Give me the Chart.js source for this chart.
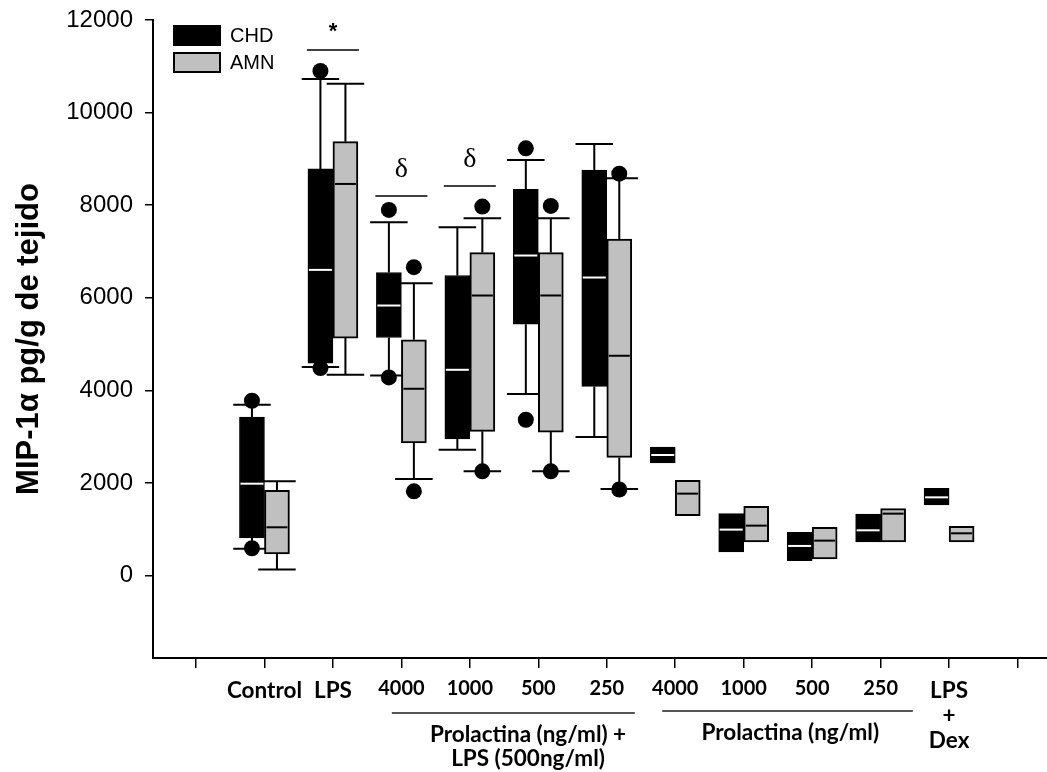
<!DOCTYPE html>
<html>
<head>
<meta charset="utf-8">
<script src="https://cdn.jsdelivr.net/npm/chart.js@4.4.1/dist/chart.umd.min.js"></script>
<style>
  html, body { margin: 0; padding: 0; background: #ffffff; }
  canvas { display: block; }
</style>
</head>
<body>
<canvas id="chart" width="1047" height="772"></canvas>
<script>
// Categories on the x axis (first and last slots are empty end ticks)
const categories = ['', 'Control', 'LPS', '4000', '1000', '500', '250',
                    '4000', '1000', '500', '250', ['LPS', '+', 'Dex'], ''];
// Category slot of each box pair
const boxSlots = [1, 2, 3, 4, 5, 6, 7, 8, 9, 10, 11];

// CHD series (pg/g)
const chdQ1     = [813, 4590, 5143, 2950, 5431, 4086, 2432, 511, 324, 727, 1526];
const chdMedian = [1985, 6603, 5833, 4445, 6913, 6438, 2604, 993, 640, 978, 1690];
const chdQ3     = [3425, 8783, 6546, 6481, 8345, 8761, 2777, 1338, 935, 1331, 1885];
const chdLow    = [580, 4503, 4323, 2719, 3920, 2993, null, null, null, null, null];
const chdHigh   = [3690, 10725, 7633, 7525, 8977, 9323, null, null, null, null, null];
const chdPoints = [[3776, 590], [10898, 4482], [7898, 4280], [], [9229, 3366], [], [], [], [], [], []];

// AMN series (pg/g)
const amnQ1     = [468, 5129, 2864, 3115, 3100, 2553, 1295, 727, 360, 727, 727];
const amnMedian = [1043, 8459, 4035, 6049, 6050, 4748, 1770, 1079, 755, 1338, 913];
const amnQ3     = [1841, 9372, 5093, 6977, 6977, 7266, 2057, 1496, 1043, 1446, 1065];
const amnLow    = [129, 4338, 2087, 2251, 2251, 1871, null, null, null, null, null];
const amnHigh   = [2035, 10624, 6316, 7719, 7719, 8582, null, null, null, null, null];
const amnPoints = [[], [], [6662, 1820], [7970, 2251], [7985, 2251], [8680, 1860], [], [], [], [], []];

// Y axis tick values
const yTicks = [0, 2000, 4000, 6000, 8000, 10000, 12000];

// Significance marks: category slot, bar height, symbol
const sigSlots  = [2, 3, 4];
const sigLevels = [11350, 8200, 8416];
const sigTexts  = ['*', '\u03B4', '\u03B4'];

function buildStats(q1, med, q3, lo, hi, pts) {
  return boxSlots.map((s, i) => ({ q1: q1[i], median: med[i], q3: q3[i], low: lo[i], high: hi[i], points: pts[i] }));
}

const chdStats = buildStats(chdQ1, chdMedian, chdQ3, chdLow, chdHigh, chdPoints);
const amnStats = buildStats(amnQ1, amnMedian, amnQ3, amnLow, amnHigh, amnPoints);

const LABEL_FONT = 'Lato, "Open Sans", sans-serif';
const AXIS_FONT = '"Liberation Sans", Arial, sans-serif';

// Whiskers go behind the boxes; medians and single points on top
const boxParts = {
  id: 'boxParts',
  beforeDatasetsDraw(chart) {
    const { ctx } = chart;
    const y = chart.scales.y;
    chart.data.datasets.forEach((ds, di) => {
      const meta = chart.getDatasetMeta(di);
      meta.data.forEach((bar, j) => {
        const st = ds.stats[j];
        const half = bar.width * 0.75;
        ctx.save();
        ctx.strokeStyle = '#000';
        ctx.lineWidth = 2;
        [[st.q3, st.high], [st.q1, st.low]].forEach(([from, to]) => {
          if (to === null || to === undefined) return;
          const y0 = y.getPixelForValue(from), y1 = y.getPixelForValue(to);
          ctx.beginPath();
          ctx.moveTo(bar.x, y0); ctx.lineTo(bar.x, y1);
          ctx.moveTo(bar.x - half, y1); ctx.lineTo(bar.x + half, y1);
          ctx.stroke();
        });
        ctx.restore();
      });
    });
  },
  afterDatasetsDraw(chart) {
    const { ctx } = chart;
    const y = chart.scales.y;
    chart.data.datasets.forEach((ds, di) => {
      const meta = chart.getDatasetMeta(di);
      meta.data.forEach((bar, j) => {
        const st = ds.stats[j];
        const inset = ds.borderWidth;
        const ym = y.getPixelForValue(st.median);
        ctx.save();
        ctx.strokeStyle = ds.medianColor;
        ctx.lineWidth = 2;
        ctx.beginPath();
        ctx.moveTo(bar.x - bar.width / 2 + inset, ym);
        ctx.lineTo(bar.x + bar.width / 2 - inset, ym);
        ctx.stroke();
        ctx.fillStyle = '#000';
        st.points.forEach(v => {
          ctx.beginPath();
          ctx.arc(bar.x, y.getPixelForValue(v), 8, 0, Math.PI * 2);
          ctx.fill();
        });
        ctx.restore();
      });
    });
  }
};

// Significance bars and symbols
const sigMarks = {
  id: 'sigMarks',
  afterDatasetsDraw(chart) {
    const { ctx } = chart;
    const x = chart.scales.x, y = chart.scales.y;
    sigSlots.forEach((slot, i) => {
      const x0 = x.getPixelForValue(slot - 0.38), x1 = x.getPixelForValue(slot + 0.38);
      const yy = y.getPixelForValue(sigLevels[i]);
      ctx.save();
      ctx.strokeStyle = '#000';
      ctx.lineWidth = 1.5;
      ctx.beginPath(); ctx.moveTo(x0, yy); ctx.lineTo(x1, yy); ctx.stroke();
      ctx.fillStyle = '#000';
      ctx.textAlign = 'center';
      ctx.textBaseline = 'alphabetic';
      if (sigTexts[i] === '*') {
        ctx.font = 'bold 22px ' + AXIS_FONT;
        ctx.fillText(sigTexts[i], (x0 + x1) / 2, yy - 12);
      } else {
        ctx.font = '28px "Liberation Serif", "Times New Roman", serif';
        ctx.fillText(sigTexts[i], (x0 + x1) / 2, yy - 19);
      }
      ctx.restore();
    });
  }
};

// Treatment group brackets under the x axis
const groupSpans = [[2.86, 6.41], [6.81, 10.47]];
const groupCenters = [4.85, 8.68];
const groupTexts = [['Prolactina (ng/ml) +', 'LPS (500ng/ml)'], ['Prolactina (ng/ml)']];
const groupLabels = {
  id: 'groupLabels',
  afterDraw(chart) {
    const { ctx, chartArea } = chart;
    const x = chart.scales.x;
    ctx.save();
    groupSpans.forEach((span, i) => {
      const yy = chartArea.bottom + 55 - i * 2;
      ctx.strokeStyle = '#555';
      ctx.lineWidth = 2;
      ctx.beginPath();
      ctx.moveTo(x.getPixelForValue(span[0]), yy);
      ctx.lineTo(x.getPixelForValue(span[1]), yy);
      ctx.stroke();
      ctx.fillStyle = '#000';
      ctx.font = 'bold 22.5px ' + LABEL_FONT;
      ctx.textAlign = 'center';
      ctx.textBaseline = 'middle';
      groupTexts[i].forEach((t, k) => {
        ctx.fillText(t, x.getPixelForValue(groupCenters[i]), yy + 22 + k * 24);
      });
    });
    ctx.restore();
  }
};

// Legend boxes in the top-left corner of the plot
const cornerLegend = {
  id: 'cornerLegend',
  afterDraw(chart) {
    const { ctx, chartArea } = chart;
    ctx.save();
    chart.data.datasets.forEach((ds, i) => {
      const lx = chartArea.left + 21, ly = chartArea.top + 6 + i * 27;
      ctx.fillStyle = ds.backgroundColor;
      ctx.fillRect(lx, ly, 46, 19);
      ctx.strokeStyle = '#000';
      ctx.lineWidth = 2;
      ctx.strokeRect(lx, ly, 46, 19);
      ctx.fillStyle = '#000';
      ctx.font = '20px ' + AXIS_FONT;
      ctx.textAlign = 'left';
      ctx.textBaseline = 'middle';
      ctx.fillText(ds.label, lx + 56, ly + 10);
    });
    ctx.restore();
  }
};

function boxData(q1, q3) {
  return boxSlots.map((s, i) => ({ x: s, y: [q1[i], q3[i]] }));
}

new Chart(document.getElementById('chart'), {
  type: 'bar',
  data: {
    datasets: [
      { label: 'CHD', data: boxData(chdQ1, chdQ3), stats: chdStats, medianColor: '#ffffff',
        backgroundColor: '#000000', borderColor: '#000000', borderWidth: 1, borderSkipped: false, barThickness: 25 },
      { label: 'AMN', data: boxData(amnQ1, amnQ3), stats: amnStats, medianColor: '#000000',
        backgroundColor: '#c0c0c0', borderColor: '#000000', borderWidth: 2, borderSkipped: false, barThickness: 25 }
    ]
  },
  options: {
    responsive: false,
    animation: false,
    layout: { padding: { top: 20, right: 0, bottom: 0, left: 0 } },
    plugins: { legend: { display: false }, tooltip: { enabled: false } },
    scales: {
      x: {
        type: 'linear',
        min: -0.628,
        max: 12.43,
        offset: false,
        afterBuildTicks: s => { s.ticks = categories.map((c, i) => ({ value: i })); },
        afterFit: s => { s.height = 114; },
        grid: { display: true, drawOnChartArea: false, drawTicks: true, tickLength: 10, color: '#000', lineWidth: 1.5, offset: false },
        border: { display: true, color: '#000', width: 2 },
        ticks: {
          autoSkip: false, maxRotation: 0, color: '#000', padding: 10,
          callback: v => categories[v] ?? '',
          font: ctx => {
            const lab = ctx.tick ? categories[ctx.tick.value] : '';
            const numeric = typeof lab === 'string' && /^\d+$/.test(lab);
            return numeric
              ? { family: LABEL_FONT, weight: 'bold', size: 20, lineHeight: 1.1 }
              : { family: LABEL_FONT, weight: 'bold', size: 22.5, lineHeight: 1.11 };
          }
        }
      },
      y: {
        type: 'linear',
        min: -1780,
        max: 12000,
        afterBuildTicks: s => { s.ticks = yTicks.map(v => ({ value: v })); },
        afterFit: s => { s.width = 153; s.paddingTop = 0; s.paddingBottom = 0; },
        grid: { display: true, drawOnChartArea: false, drawTicks: true, tickLength: 8, color: '#000', lineWidth: 1.5 },
        border: { display: true, color: '#000', width: 2 },
        ticks: { color: '#000', padding: 12, callback: v => String(v), font: { family: AXIS_FONT, size: 24 } },
        title: {
          display: true, text: 'MIP-1\u03B1 pg/g de tejido', color: '#000',
          font: { family: AXIS_FONT, size: 31, weight: 'bold' }, padding: { top: 11, bottom: 0 }
        }
      }
    }
  },
  plugins: [boxParts, sigMarks, groupLabels, cornerLegend]
});
</script>
</body>
</html>
